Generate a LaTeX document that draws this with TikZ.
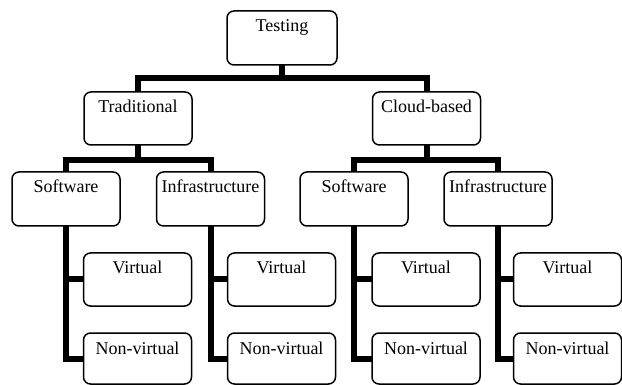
\documentclass[tikz,border=0pt]{standalone}
\usepackage{fontspec}
\setmainfont{Liberation Serif}
\usetikzlibrary{calc}
\begin{document}
\begin{tikzpicture}[x=1pt,y=-1pt,
  box/.style={minimum width=108pt, minimum height=53pt, inner sep=0pt, outer sep=0pt},
  boxline/.style={draw=black, line width=1.5pt, rounded corners=7pt, fill=white},
  lbl/.style={anchor=base, inner sep=0pt, font=\fontsize{18}{20}\selectfont},
  conn/.style={line width=6pt, line join=miter, draw=black}]
\useasboundingbox (0,0) rectangle (622,385);
% box frames (positions)
\node[box, minimum width=110pt, minimum height=54pt] (test) at (282,38) {};
\node[box] (trad) at (138,118.5) {};
\node[box] (cloud) at (426.5,118.5) {};
\node[box, minimum height=54pt] (sw1) at (66,199) {};
\node[box, minimum height=54pt] (inf1) at (210.5,199) {};
\node[box, minimum height=54pt] (sw2) at (354,199) {};
\node[box, minimum height=54pt] (inf2) at (498,199) {};
\node[box] (v1) at (137.5,279.5) {};
\node[box] (v2) at (281.5,279.5) {};
\node[box] (v3) at (426,279.5) {};
\node[box] (v4) at (567.5,279.5) {};
\node[box, minimum height=51pt] (n1) at (137.5,358.5) {};
\node[box, minimum height=51pt] (n2) at (281.5,358.5) {};
\node[box, minimum height=51pt] (n3) at (426,358.5) {};
\node[box, minimum height=51pt] (n4) at (567.5,358.5) {};
% bar junctions
\coordinate (b0) at (282,78.5);
\coordinate (b1) at (138,160);
\coordinate (b2) at (426.5,160);
% connectors
\draw[conn] (trad.north) |- (b0) -| (cloud.north);
\draw[conn] (test.south) -- (b0);
\draw[conn] (sw1.north) |- (b1) -| (inf1.north);
\draw[conn] (trad.south) -- (b1);
\draw[conn] (sw2.north) |- (b2) -| (inf2.north);
\draw[conn] (cloud.south) -- (b2);
\draw[conn] (sw1.south) |- (n1.west);
\draw[conn] (sw1.south |- v1.west) -- (v1.west);
\draw[conn] (inf1.south) |- (n2.west);
\draw[conn] (inf1.south |- v2.west) -- (v2.west);
\draw[conn] (sw2.south) |- (n3.west);
\draw[conn] (sw2.south |- v3.west) -- (v3.west);
\draw[conn] (inf2.south) |- (n4.west);
\draw[conn] (inf2.south |- v4.west) -- (v4.west);
% boxes on top of connectors
\foreach \n in {test,trad,cloud,sw1,inf1,sw2,inf2,v1,v2,v3,v4,n1,n2,n3,n4}{
  \draw[boxline] (\n.north west) rectangle (\n.south east);
}
% labels
\node[lbl] (ttest) at ($(test.north)+(0,21)$) {Testing};
\node[lbl] (ttrad) at ($(trad.north)+(0,21)$) {Traditional};
\node[lbl] (tcloud) at ($(cloud.north)+(0,21)$) {Cloud-based};
\node[lbl] (tsw1) at ($(sw1.north)+(0,21)$) {Software};
\node[lbl] (tinf1) at ($(inf1.north)+(0,21)$) {Infrastructure};
\node[lbl] (tsw2) at ($(sw2.north)+(0,21)$) {Software};
\node[lbl] (tinf2) at ($(inf2.north)+(0,21)$) {Infrastructure};
\node[lbl] (tv1) at ($(v1.north)+(0,21)$) {Virtual};
\node[lbl] (tv2) at ($(v2.north)+(0,21)$) {Virtual};
\node[lbl] (tv3) at ($(v3.north)+(0,21)$) {Virtual};
\node[lbl] (tv4) at ($(v4.north)+(0,21)$) {Virtual};
\node[lbl] (tn1) at ($(n1.north)+(0,21)$) {Non-virtual};
\node[lbl] (tn2) at ($(n2.north)+(0,21)$) {Non-virtual};
\node[lbl] (tn3) at ($(n3.north)+(0,21)$) {Non-virtual};
\node[lbl] (tn4) at ($(n4.north)+(0,21)$) {Non-virtual};
\end{tikzpicture}
\end{document}
